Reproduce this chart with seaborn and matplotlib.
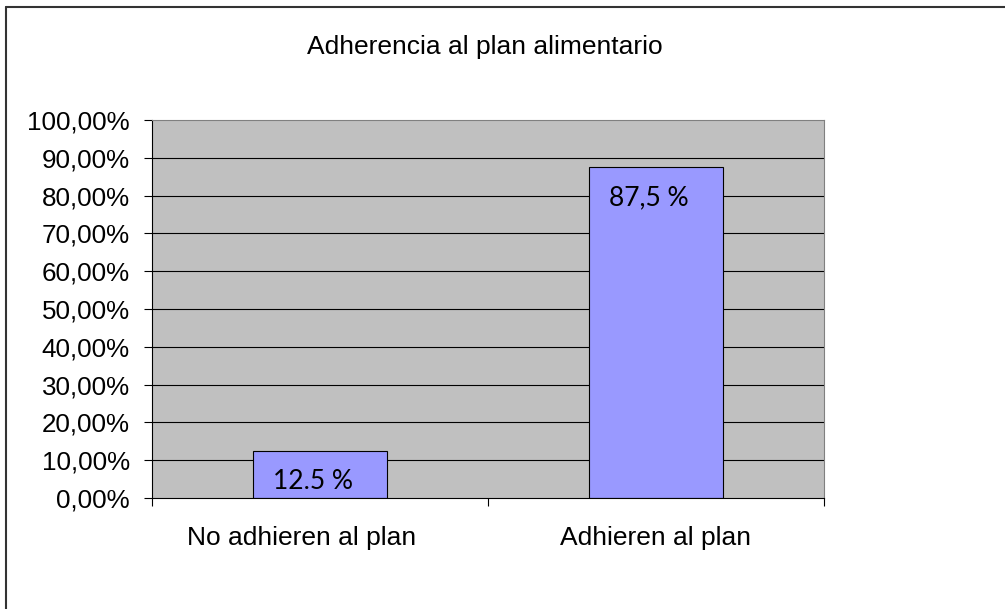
import matplotlib
matplotlib.use("Agg")
import matplotlib.pyplot as plt
import seaborn as sns
import pandas as pd
from matplotlib.lines import Line2D
from matplotlib.ticker import FixedLocator
from matplotlib.transforms import ScaledTranslation

categories = ["No adhieren al plan", "Adhieren al plan"]
values = [12.5, 87.5]
bar_labels = ["12.5 %", "87,5 %"]
y_ticks = [0, 10, 20, 30, 40, 50, 60, 70, 80, 90, 100]
y_tick_labels = ["0,00%", "10,00%", "20,00%", "30,00%", "40,00%", "50,00%",
                 "60,00%", "70,00%", "80,00%", "90,00%", "100,00%"]
title = "Adherencia al plan alimentario"

sns.set_theme(style="white")
plt.rcParams['font.family'] = ['Liberation Sans', 'DejaVu Sans']
plt.rcParams['text.color'] = 'black'
plt.rcParams['xtick.color'] = 'black'
plt.rcParams['ytick.color'] = 'black'
plt.rcParams['xtick.labelcolor'] = 'black'
plt.rcParams['ytick.labelcolor'] = 'black'

df = pd.DataFrame({"cat": categories, "val": values})

fig = plt.figure(figsize=(10.05, 6.09), dpi=100)
ax = fig.add_axes([152/1005, 1-498/609, (824-152)/1005, (498-120)/609])
ax.set_facecolor("#C0C0C0")

sns.barplot(data=df, x="cat", y="val", color="#9999FF", saturation=1,
            width=0.4, edgecolor="black", linewidth=0.8, ax=ax, zorder=3)

ax.set_ylim(0, 100)
ax.set_xlim(-0.5, 1.5)
ax.set_yticks(y_ticks)
ax.set_yticklabels(y_tick_labels, fontsize=18.7, color='black')
ax.set_xticks(range(len(categories)))
ax.set_xticklabels(categories, fontsize=19, color='black')
ax.xaxis.set_minor_locator(FixedLocator([-0.5, 0.5, 1.5]))
ax.tick_params(axis='x', which='major', length=0, pad=20)
ax.tick_params(axis='x', which='minor', length=6, width=0.8, color='black', direction='out', bottom=True)
ax.tick_params(axis='y', which='major', length=6, width=0.8, color='black', direction='out', left=True, pad=10)
ax.set_xlabel("")
ax.set_ylabel("")

# first category label sits a little left of its bar in the reference
lbl = ax.get_xticklabels()[0]
lbl.set_transform(lbl.get_transform() + ScaledTranslation(-0.18, 0, fig.dpi_scale_trans))

for y in y_ticks[1:-1]:
    ax.axhline(y, color="black", linewidth=0.8, zorder=1)

for s in ["left", "bottom"]:
    ax.spines[s].set_color("black")
    ax.spines[s].set_linewidth(0.8)
for s in ["top", "right"]:
    ax.spines[s].set_color("#808080")
    ax.spines[s].set_linewidth(0.8)
ax.spines["bottom"].set_zorder(4)

for i, (v, lab) in enumerate(zip(values, bar_labels)):
    ax.annotate(lab, xy=(i, v), xytext=(-5, -22), textcoords="offset points",
                ha="center", va="center", fontsize=19, family=["Lato", "DejaVu Sans"],
                color="black", zorder=5)

fig.text(485/1005, 1-47/609, title, ha="center", va="center", fontsize=19, color="black")

fig.add_artist(Line2D([6/1005, 6/1005], [0, 1-7/609], transform=fig.transFigure,
                      color="#333333", linewidth=1.5))
fig.add_artist(Line2D([6/1005, 1], [1-7/609, 1-7/609], transform=fig.transFigure,
                      color="#333333", linewidth=1.5))

fig.savefig("out.png", dpi=100)
